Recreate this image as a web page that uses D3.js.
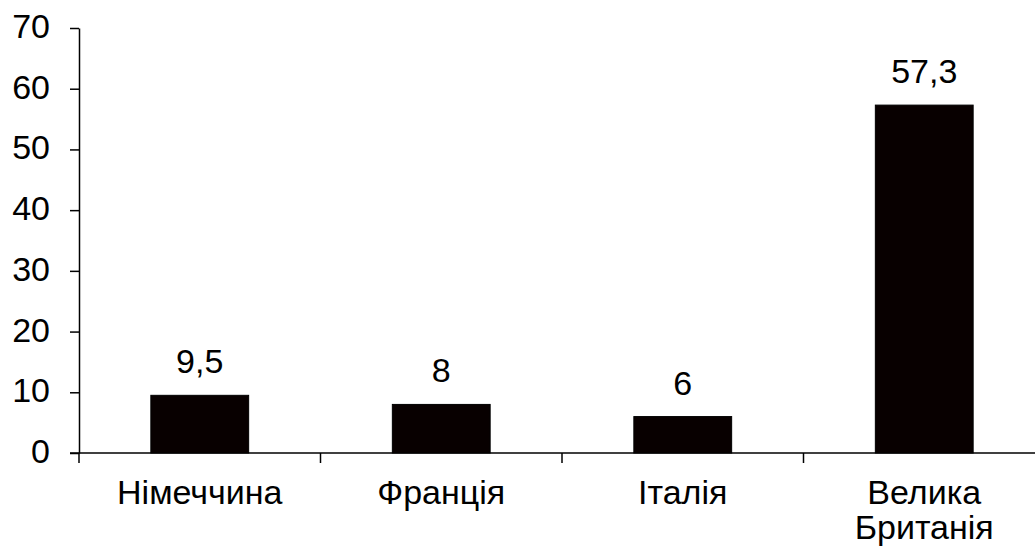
<!DOCTYPE html>
<html>
<head>
<meta charset="utf-8">
<script src="https://cdn.jsdelivr.net/npm/d3@7"></script>
<style>
  body { margin: 0; background: #fff; }
  svg text { font-family: "Liberation Sans", Arial, sans-serif; fill: #000; }
</style>
</head>
<body>
<script>
const categories = [["Німеччина"], ["Франція"], ["Італія"], ["Велика", "Британія"]];
const values = [9.5, 8, 6, 57.3];
const valueLabels = ["9,5", "8", "6", "57,3"];
const yTicks = [0, 10, 20, 30, 40, 50, 60, 70];

const width = 1035, height = 547;
const m = { left: 79, right: 1045, top: 28, bottom: 453 };
const fontSize = 34;

const svg = d3.select("body").append("svg")
  .attr("width", width)
  .attr("height", height);

const keys = categories.map(c => c.join(" "));

const x = d3.scaleBand()
  .domain(keys)
  .range([m.left, m.right])
  .paddingInner(0.595)
  .paddingOuter(0.2975);

const xTicks = d3.scaleBand().domain(keys).range([m.left, m.right]);

const y = d3.scaleLinear()
  .domain([0, 70])
  .range([m.bottom, m.top]);

// y axis
const yAxis = svg.append("g")
  .attr("transform", `translate(${m.left},0)`)
  .call(d3.axisLeft(y).tickValues(yTicks).tickSize(9).tickSizeOuter(0).tickPadding(20));
yAxis.attr("font-size", fontSize).attr("font-family", "Liberation Sans, Arial, sans-serif");
yAxis.select(".domain").attr("stroke", "#000").attr("stroke-width", 1.5);
yAxis.selectAll(".tick line").attr("stroke", "#000").attr("stroke-width", 1.5);
yAxis.selectAll(".tick text").attr("dy", "0.28em");

// x axis line
svg.append("line")
  .attr("x1", m.left - 9).attr("x2", width)
  .attr("y1", m.bottom).attr("y2", m.bottom)
  .attr("stroke", "#000").attr("stroke-width", 1.5);

// x ticks at band boundaries
svg.append("g").selectAll("line")
  .data(keys)
  .join("line")
  .attr("x1", d => xTicks(d)).attr("x2", d => xTicks(d))
  .attr("y1", m.bottom).attr("y2", m.bottom + 10)
  .attr("stroke", "#000").attr("stroke-width", 1.5);

// bars
svg.append("g").selectAll("rect")
  .data(values)
  .join("rect")
  .attr("x", (d, i) => x(keys[i]))
  .attr("width", x.bandwidth())
  .attr("y", d => y(d))
  .attr("height", d => y(0) - y(d))
  .attr("fill", "#080000")
  .attr("stroke", "#000")
  .attr("stroke-width", 1);

// value labels
svg.append("g").selectAll("text")
  .data(values)
  .join("text")
  .attr("x", (d, i) => x(keys[i]) + x.bandwidth() / 2)
  .attr("y", d => y(d) - 22)
  .attr("text-anchor", "middle")
  .attr("font-size", fontSize)
  .text((d, i) => valueLabels[i]);

// category labels
const catText = svg.append("g").selectAll("text")
  .data(categories)
  .join("text")
  .attr("text-anchor", "middle")
  .attr("font-size", fontSize)
  .attr("transform", (d, i) => `translate(${x(keys[i]) + x.bandwidth() / 2},504)`);

catText.selectAll("tspan")
  .data(d => d)
  .join("tspan")
  .attr("x", 0)
  .attr("dy", (d, j) => j === 0 ? 0 : 35)
  .text(d => d);
</script>
</body>
</html>
